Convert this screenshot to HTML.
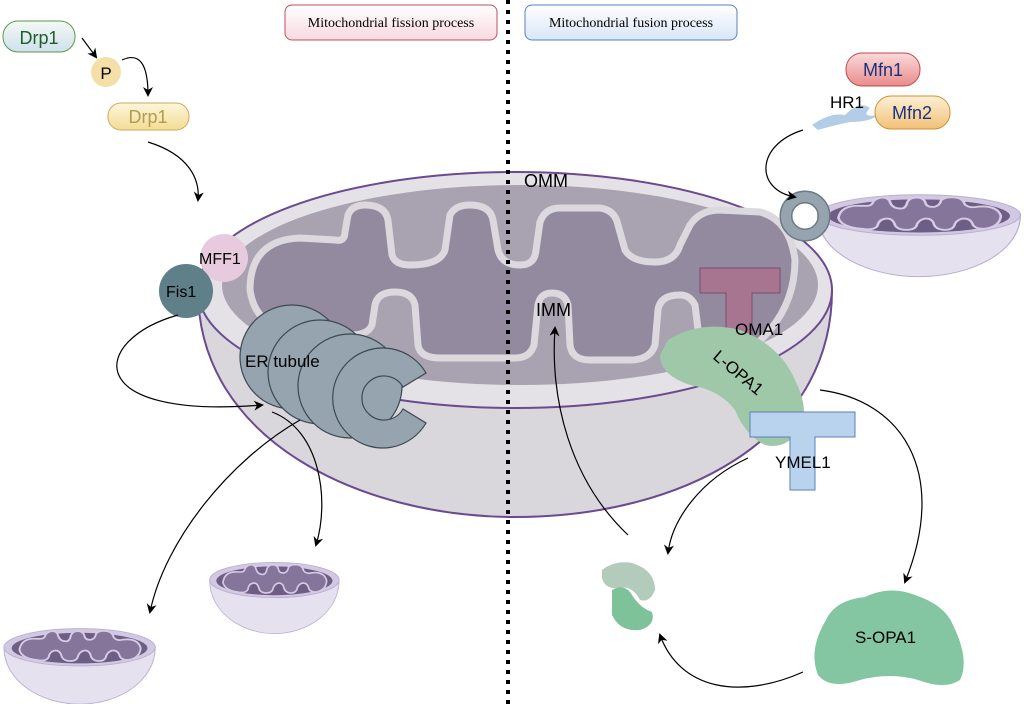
<!DOCTYPE html>
<html><head><meta charset="utf-8"><style>
html,body{margin:0;padding:0;background:#fff;}
svg{display:block;font-family:"Liberation Sans",sans-serif;}
</style></head><body>
<svg width="1024" height="704" viewBox="0 0 1024 704" xmlns="http://www.w3.org/2000/svg">
<defs>
<marker id="ah" markerWidth="10" markerHeight="10" refX="8" refY="5" orient="auto" markerUnits="userSpaceOnUse">
<path d="M0,0 L10,5 L0,10 L3,5 Z" fill="#000"/></marker>
<linearGradient id="gp" x1="0" y1="0" x2="0" y2="1"><stop offset="0" stop-color="#fff"/><stop offset="1" stop-color="#f9d9e0"/></linearGradient>
<linearGradient id="gb" x1="0" y1="0" x2="0" y2="1"><stop offset="0" stop-color="#fff"/><stop offset="1" stop-color="#d8e6f7"/></linearGradient>
<linearGradient id="gg" x1="0" y1="0" x2="0" y2="1"><stop offset="0" stop-color="#f4f9f4"/><stop offset="1" stop-color="#cfe0ee"/></linearGradient>
<linearGradient id="gy" x1="0" y1="0" x2="0" y2="1"><stop offset="0" stop-color="#fdf6dc"/><stop offset="1" stop-color="#f3dc92"/></linearGradient>
<linearGradient id="gr" x1="0" y1="0" x2="0" y2="1"><stop offset="0" stop-color="#fbdada"/><stop offset="1" stop-color="#e98b8b"/></linearGradient>
<linearGradient id="go" x1="0" y1="0" x2="0" y2="1"><stop offset="0" stop-color="#fdf0d6"/><stop offset="1" stop-color="#f2c177"/></linearGradient>
<g id="mito">
<path d="M2,25 C2,65 40,92 80,92 C120,92 158,65 158,25 Z" fill="#e6e1ef" stroke="#b9afd0" stroke-width="1"/>
<ellipse cx="80" cy="25" rx="78" ry="22" fill="#d2c8e2" stroke="#b9afd0"/>
<ellipse cx="80" cy="26" rx="70" ry="18" fill="#6e5e86"/>
<path d="M18,28 Q20,14 35,15 L40,15 Q44,15 45,10 Q48,6 52,6 Q57,6 58,12 Q60,18 66,18 Q70,18 71,11 Q73,6 78,6 Q84,6 85,12 Q86,17 92,16 Q96,15 97,9 Q100,5 108,6 Q114,7 115,13 Q118,18 125,16 Q140,14 143,26 Q142,38 130,40 Q122,40 121,34 Q119,28 113,29 Q108,31 107,37 Q105,42 98,41 Q92,40 91,33 Q89,28 84,29 Q79,31 78,37 Q76,42 68,41 Q62,40 61,34 Q59,28 54,29 Q49,30 48,37 Q45,42 36,40 Q20,38 18,28 Z" fill="#85759b" stroke="#d6cde4" stroke-width="2"/>
</g>
</defs>

<!-- big mitochondrion -->
<path d="M198,290 C198,440 360,517 515,517 C680,517 832,440 832,290 Z" fill="#d9d7dc" stroke="#6a4a90" stroke-width="2"/>
<ellipse cx="515" cy="290" rx="317" ry="118" fill="#e4e2e6" stroke="#6a4a90" stroke-width="2"/>
<ellipse cx="520" cy="285" rx="298" ry="100" fill="#a9a2b1"/>
<path d="M250,290 Q250,240 300,238 L335,240 Q345,242 345,232 L348,215 Q352,205 365,205 Q385,205 388,220 L392,255 Q395,265 410,265 Q440,265 445,250 L450,215 Q455,205 470,205 Q490,205 493,220 L498,250 Q502,265 520,265 Q535,265 536,250 L540,222 Q545,208 560,208 L600,208 Q615,210 618,225 L625,250 Q632,262 655,262 Q675,262 680,245 L690,225 Q700,210 720,210 L760,212 Q790,220 795,260 Q795,300 770,330 Q745,360 720,360 Q705,362 700,345 L695,305 Q690,295 680,295 Q660,295 658,310 L655,345 Q650,360 630,360 L590,360 Q572,360 570,345 L568,305 Q565,293 552,293 Q540,293 538,305 L534,345 Q530,358 515,358 L440,358 Q420,358 418,345 L415,305 Q412,292 395,292 Q378,292 375,305 L372,325 Q368,335 350,335 L290,330 Q255,325 250,290 Z" fill="#948aa0" stroke="#dcd8de" stroke-width="7"/>

<!-- small mitochondria -->
<use href="#mito" transform="translate(2,626) scale(0.97,0.85)"/>
<use href="#mito" transform="translate(208,560) scale(0.83,0.8)"/>
<use href="#mito" transform="translate(815,192) scale(1.3,0.92)"/>

<!-- ring connector -->
<circle cx="805" cy="216" r="19" fill="none" stroke="#6b7a84" stroke-width="13"/>
<circle cx="805" cy="216" r="19" fill="none" stroke="#95a4ae" stroke-width="10"/>

<!-- dotted line -->
<line x1="508" y1="0" x2="508" y2="704" stroke="#000" stroke-width="4" stroke-dasharray="4,6"/>

<!-- ER tubule -->
<g fill="#95a4ae" stroke="#3d4a52" stroke-width="1.2">
<circle cx="292" cy="357" r="52"/>
<circle cx="320" cy="372" r="52"/>
<circle cx="350" cy="386" r="52"/>
<path d="M426,423 A50,50 0 1 1 426,373 L403,387 A22,22 0 1 0 403,409 Z"/>
</g>
<text x="245" y="367" font-size="17">ER tubule</text>

<!-- Fis1 MFF1 -->
<circle cx="224" cy="258" r="24" fill="#e8cadf"/>
<circle cx="186" cy="291" r="27" fill="#5f7f89"/>
<text x="199" y="264" font-size="16">MFF1</text>
<text x="166" y="297" font-size="16">Fis1</text>

<!-- OMA1 -->
<path d="M700,268 L780,268 L780,293 L752,293 L752,345 L726,345 L726,293 L700,293 Z" fill="#a87590" stroke="#7a4a66"/>
<!-- L-OPA1 -->
<path d="M668,340 Q700,320 740,330 Q780,345 795,380 Q810,410 800,430 Q785,450 765,445 Q745,435 735,410 Q720,390 690,385 Q660,375 660,355 Z" fill="#9fc8a9"/>
<text x="735" y="335" font-size="17">OMA1</text>
<text transform="translate(712,358) rotate(40)" font-size="17">L-OPA1</text>
<!-- YMEL1 -->
<path d="M750,412 L855,412 L855,437 L815,437 L815,490 L790,490 L790,437 L750,437 Z" fill="#b9d3ee" stroke="#5a80b5"/>
<text x="775" y="468" font-size="17">YMEL1</text>

<text x="524" y="187" font-size="18">OMM</text>
<text x="536" y="316" font-size="18">IMM</text>

<!-- small green blobs -->
<path d="M602,570 Q615,560 632,563 Q655,570 655,590 Q650,603 640,600 Q632,585 620,588 Q605,590 602,578 Z" fill="#b3cbbb"/>
<path d="M612,590 Q625,583 632,595 Q640,608 652,612 Q656,625 640,630 Q620,632 612,615 Z" fill="#7ec29a"/>
<!-- S-OPA1 -->
<path d="M826,620 Q835,600 865,597 Q890,585 915,595 Q945,605 953,625 Q970,660 960,680 Q945,690 918,680 Q890,672 860,680 Q830,690 818,675 Q808,650 826,620 Z" fill="#84c6a2"/>
<text x="855" y="643" font-size="17">S-OPA1</text>

<!-- title boxes -->
<rect x="285" y="5" width="212" height="35" rx="7" fill="url(#gp)" stroke="#c0505e"/>
<text x="391" y="27" font-size="14" text-anchor="middle" font-family="Liberation Serif,serif">Mitochondrial fission process</text>
<rect x="525" y="5" width="212" height="35" rx="7" fill="url(#gb)" stroke="#5a7fc0"/>
<text x="631" y="27" font-size="14" text-anchor="middle" font-family="Liberation Serif,serif">Mitochondrial fusion process</text>

<!-- Drp1 -->
<rect x="3" y="21" width="72" height="31" rx="15" fill="url(#gg)" stroke="#5a9a4a"/>
<text x="39" y="44" font-size="18" fill="#1d5e2a" text-anchor="middle">Drp1</text>
<circle cx="106" cy="72" r="15" fill="#f5dfa8"/>
<text x="106" y="79" font-size="17" text-anchor="middle">P</text>
<rect x="108" y="103" width="81" height="27" rx="13" fill="url(#gy)" stroke="#c9ad5a"/>
<text x="148" y="123" font-size="18" fill="#b59a55" text-anchor="middle">Drp1</text>

<!-- Mfn -->
<path d="M812,125 Q830,112 845,115 Q860,100 870,108 Q860,118 878,115 Q870,122 850,122 Q835,125 818,130 Z" fill="#b3cde6"/>
<rect x="846" y="53" width="74" height="33" rx="16" fill="url(#gr)" stroke="#c04848"/>
<text x="883" y="76" font-size="18" fill="#1a3380" text-anchor="middle">Mfn1</text>
<rect x="875" y="96" width="75" height="33" rx="16" fill="url(#go)" stroke="#d0902e"/>
<text x="912" y="119" font-size="18" fill="#1a3380" text-anchor="middle">Mfn2</text>
<text x="830" y="108" font-size="17">HR1</text>

<!-- arrows -->
<g fill="none" stroke="#000" stroke-width="1.2" marker-end="url(#ah)">
<path d="M82,38 L96,57"/>
<path d="M122,60 Q148,48 148,95"/>
<path d="M148,142 C190,155 200,180 198,200"/>
<path d="M178,315 C90,340 80,420 262,405"/>
<path d="M300,420 C230,460 165,540 150,612"/>
<path d="M272,412 C320,430 330,500 316,545"/>
<path d="M628,535 C570,480 550,400 555,328"/>
<path d="M748,458 C700,480 672,520 668,553"/>
<path d="M820,390 C900,400 950,470 905,582"/>
<path d="M803,672 C740,700 680,690 660,635"/>
<path d="M803,130 C755,145 755,190 795,197"/>
</g>
</svg>
</body></html>
